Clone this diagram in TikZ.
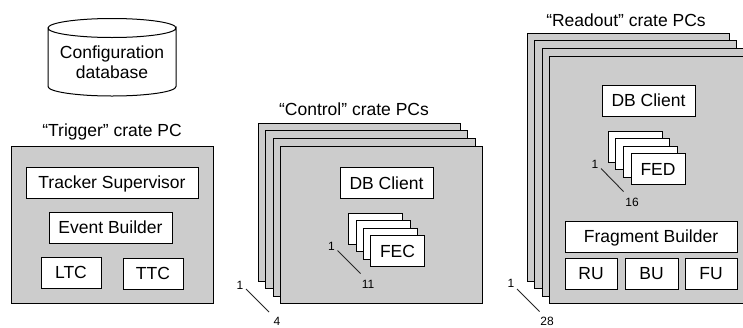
\documentclass[tikz,border=0pt]{standalone}
\usepackage{fontspec}
\setmainfont{Liberation Sans}
\newcommand{\lab}{\fontsize{17.5}{21}\selectfont}
\newcommand{\smalllab}{\fontsize{12}{14}\selectfont}
\tikzset{
  crate/.style={draw=black,fill=crategray,line width=1pt,inner sep=0pt,minimum width=202pt},
  appbox/.style={draw=black,fill=white,line width=1pt,inner sep=0pt,font=\lab,text height=12.6pt,text depth=0pt},
  stackbox/.style={appbox,minimum width=54pt,minimum height=31pt},
  title/.style={inner sep=0pt,font=\lab,text=black},
  count/.style={inner sep=0pt,font=\smalllab,text=black},
  tick/.style={draw=black!85,line width=0.9pt},
}
\definecolor{crategray}{RGB}{204,204,204}
\begin{document}
\begin{tikzpicture}[x=1pt,y=-1pt]
\clip (0,0) rectangle (743,327);
\fill[white] (0,0) rectangle (743,327);
% database
\draw[line width=1pt,fill=white] (48,28) -- (48,86.5) arc[start angle=180,end angle=0,x radius=64,y radius=9.5] -- (176,28) arc[start angle=0,end angle=360,x radius=64,y radius=9.5];
\node[title,align=center,font=\fontsize{17.5}{20}\selectfont] (db) at (112,62) {Configuration\\database};
% trigger
\node[title] (ttitle) at (112,131.5) {“Trigger” crate PC};
\node[crate,minimum height=157pt] (tcrate) at (112,224.5) {};
\node[appbox,minimum width=172pt,minimum height=31pt] (ts) at (112,182.5) {Tracker Supervisor};
\node[appbox,minimum width=123pt,minimum height=31pt] (eb) at (110.5,227.5) {Event Builder};
\node[appbox,minimum width=60pt,minimum height=31pt] (ltc) at (71,272.5) {LTC};
\node[appbox,minimum width=60pt,minimum height=31pt] (ttc) at (153,273.5) {TTC};
% control
\node[title] (ctitle) at (354,109) {“Control” crate PCs};
\node[crate,minimum height=158pt] (c1) at (359,202) {};
\node[crate,minimum height=158pt] (c2) at (366.5,209.5) {};
\node[crate,minimum height=158pt] (c3) at (374,217) {};
\node[crate,minimum height=157pt] (c4) at (381.5,224.5) {};
\node[appbox,minimum width=93pt,minimum height=31pt] (cdb) at (386.5,183) {DB Client};
\node[stackbox] (f1) at (375.5,228.5) {};
\node[stackbox] (f2) at (383,236) {};
\node[stackbox] (f3) at (390,243.5) {};
\node[stackbox] (f4) at (397.5,251) {FEC};
\node[count] (cf1) at (331.5,246.5) {1};
\node[count] (cf2) at (368,284) {11};
\coordinate (cfa) at (337.5,250.5);
\coordinate (cfb) at (360.5,273.5);
\draw[tick] (cfa) -- (cfb);
\node[count] (c1l) at (240,285) {1};
\node[count] (c4l) at (277,321.5) {4};
\coordinate (cca) at (246,289);
\coordinate (ccb) at (269,312);
\draw[tick] (cca) -- (ccb);
% readout
\node[title] (rtitle) at (626,20) {“Readout” crate PCs};
\node[crate,minimum height=248pt] (r1) at (628,157) {};
\node[crate,minimum height=248pt] (r2) at (635.5,164.5) {};
\node[crate,minimum height=248pt] (r3) at (643,172) {};
\node[crate,minimum height=247pt] (r4) at (650.5,179.5) {};
\node[appbox,minimum width=93pt,minimum height=31pt] (rdb) at (648.5,100.5) {DB Client};
\node[stackbox] (e1) at (635,146.5) {};
\node[stackbox] (e2) at (642.5,154) {};
\node[stackbox] (e3) at (650,161.5) {};
\node[stackbox] (e4) at (658,169) {FED};
\node[count] (re1) at (595,164) {1};
\node[count] (re2) at (632,202) {16};
\coordinate (rea) at (601,168.5);
\coordinate (reb) at (623.5,191.5);
\draw[tick] (rea) -- (reb);
\node[appbox,minimum width=172pt,minimum height=31pt] (fb) at (651,236.5) {Fragment Builder};
\node[appbox,minimum width=52pt,minimum height=31pt] (ru) at (591,273.5) {RU};
\node[appbox,minimum width=53pt,minimum height=31pt] (bu) at (651.5,273.5) {BU};
\node[appbox,minimum width=52pt,minimum height=31pt] (fu) at (711,273.5) {FU};
\node[count] (r1l) at (511,283) {1};
\node[count] (r28) at (547,321) {28};
\coordinate (rca) at (517,289);
\coordinate (rcb) at (539.5,311.5);
\draw[tick] (rca) -- (rcb);
\end{tikzpicture}
\end{document}
